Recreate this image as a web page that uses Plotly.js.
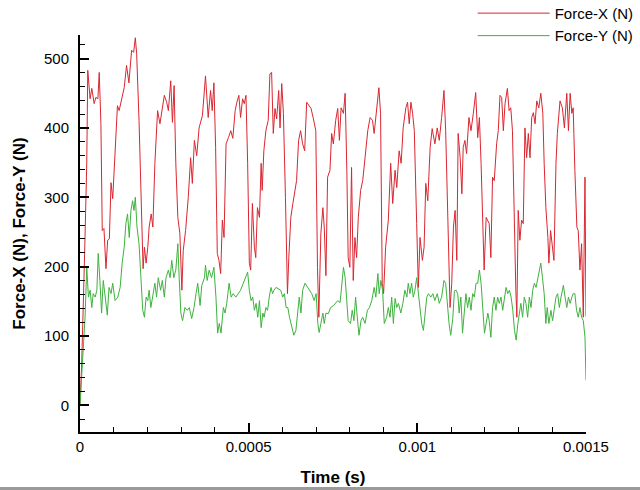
<!DOCTYPE html>
<html>
<head>
<meta charset="utf-8">
<script src="https://cdn.plot.ly/plotly-3.0.1.min.js"></script>
<style>
  html, body { margin: 0; padding: 0; background: #9a9a9a; width: 640px; height: 490px; overflow: hidden; }
  #chart { width: 640px; height: 487px; background: #fff; }
</style>
</head>
<body>
<div id="chart"></div>
<script>
// time in microseconds, force in N
var timeX = [0,5,13,20,23,30,35,42,47,53,57,62,66,71,77,82,87,92,97,104,111,116,124,131,138,145,153,159,164,168,175,181,187,191,196,201,205,211,216,222,230,237,244,250,257,262,269,274,279,284,290,296,302,306,313,321,328,333,339,346,353,363,372,380,387,392,397,402,407,412,417,422,427,433,440,447,453,460,465,471,476,482,487,492,497,502,506,511,517,521,526,532,537,540,545,551,558,563,568,573,578,583,589,593,598,603,609,615,619,625,631,637,642,648,654,660,666,672,679,685,692,699,704,708,714,720,724,729,734,741,746,751,758,764,769,774,781,786,791,795,800,805,810,815,820,825,832,838,845,853,860,867,872,880,886,891,896,900,906,914,921,927,934,939,946,952,958,966,971,976,981,986,991,998,1003,1008,1015,1020,1025,1031,1038,1044,1052,1059,1065,1072,1079,1084,1090,1097,1102,1107,1112,1117,1121,1127,1132,1136,1141,1146,1153,1159,1166,1173,1179,1184,1189,1194,1198,1204,1209,1213,1218,1223,1228,1235,1240,1245,1250,1255,1260,1267,1272,1277,1282,1287,1292,1295,1299,1304,1309,1314,1319,1324,1329,1334,1339,1344,1349,1354,1360,1366,1372,1376,1381,1387,1390,1395,1400,1405,1411,1415,1423,1430,1436,1443,1448,1453,1458,1462,1467,1473,1477,1482,1487,1492,1497,1500];
var forceX = [0,60,205,349,483,442,457,435,444,442,480,406,252,255,197,238,240,321,298,357,432,425,444,458,490,465,512,509,530,507,411,285,197,228,205,228,257,276,257,349,425,406,432,447,437,425,468,408,461,349,271,248,166,223,252,300,357,320,382,360,400,418,475,415,454,425,465,372,219,209,190,267,242,377,386,396,385,425,437,447,415,442,435,447,349,205,195,291,228,213,285,271,349,310,367,396,411,478,480,392,428,413,454,400,464,421,300,161,213,271,291,310,324,382,396,377,367,437,432,428,413,396,199,127,248,285,257,187,329,339,392,377,411,428,382,429,421,450,339,213,199,343,180,242,213,271,310,324,357,396,415,411,392,435,458,421,176,161,228,267,349,291,339,314,367,349,400,429,437,406,437,421,396,262,170,242,209,228,320,295,372,399,377,400,382,415,454,396,271,141,176,257,281,209,392,357,305,372,382,363,415,396,421,451,386,415,349,242,195,271,267,262,213,329,324,377,396,447,444,396,435,457,425,429,396,252,166,127,281,238,267,262,400,357,392,357,415,422,406,439,429,450,421,349,285,242,205,252,233,209,349,392,439,429,400,450,396,450,421,429,339,257,252,195,233,127,329,128];

var timeY = [0,10,15,20,25,30,35,39,45,50,54,59,64,69,74,81,86,92,97,104,112,119,125,131,136,141,146,151,156,160,164,169,175,181,186,191,196,201,205,210,216,222,227,232,239,244,250,255,262,267,272,278,284,290,294,299,304,311,318,324,331,338,344,349,356,361,369,372,377,383,390,397,403,408,413,418,425,430,435,442,448,454,462,469,476,484,491,497,502,507,512,517,522,527,532,537,542,546,551,556,561,566,571,575,581,588,595,601,606,611,616,621,628,634,640,645,650,655,660,667,674,680,687,694,700,705,709,714,720,724,729,736,743,752,764,771,776,781,786,791,795,802,807,812,817,822,827,833,838,845,852,858,865,872,877,883,887,892,897,902,909,914,919,924,929,934,939,944,951,957,963,969,973,978,983,988,993,998,1003,1008,1013,1018,1023,1028,1033,1040,1046,1052,1059,1065,1072,1079,1084,1089,1094,1099,1105,1110,1115,1120,1124,1129,1134,1139,1144,1149,1154,1159,1164,1169,1174,1179,1184,1189,1194,1199,1204,1209,1213,1218,1223,1228,1233,1238,1243,1248,1253,1258,1263,1268,1273,1278,1283,1288,1293,1298,1302,1307,1312,1317,1322,1327,1332,1337,1342,1347,1352,1357,1362,1366,1371,1376,1381,1385,1390,1396,1401,1406,1411,1416,1421,1426,1433,1438,1443,1448,1453,1458,1462,1467,1472,1477,1482,1487,1492,1497,1500];
var forceY = [0,84,127,199,156,166,141,161,156,166,219,180,133,180,156,130,170,161,176,151,156,170,205,228,262,276,242,281,295,281,300,257,233,176,137,127,156,151,166,141,156,176,156,184,166,180,156,184,195,184,209,184,195,233,184,133,122,141,137,141,125,141,161,176,144,173,184,202,180,195,184,199,156,104,118,104,141,133,147,176,156,161,156,161,166,176,184,192,166,151,156,137,147,127,151,112,133,127,141,137,156,170,161,166,170,168,166,156,161,141,141,127,112,101,108,133,156,133,166,176,170,166,161,151,161,118,105,118,133,118,133,132,141,144,151,148,180,199,184,156,122,118,137,122,156,127,101,122,127,118,137,141,151,170,156,190,161,180,166,118,127,141,127,156,118,154,141,147,133,147,166,156,176,161,176,156,166,184,161,137,118,108,137,156,161,156,161,151,161,147,156,180,176,141,118,101,125,165,166,160,133,156,104,133,161,141,156,137,161,156,176,176,195,176,137,104,118,133,122,98,141,156,137,156,147,156,137,156,170,161,166,156,137,108,94,118,133,147,127,156,147,127,156,141,166,176,170,184,195,205,184,161,118,141,118,137,122,141,156,161,141,156,173,156,141,156,147,156,161,161,137,127,141,127,122,98,36];

var xTickVals = [0, 0.0005, 0.001, 0.0015];
var xTickText = ["0", "0.0005", "0.001", "0.0015"];
var yTickVals = [0, 100, 200, 300, 400, 500];

var toSec = function (us) { return us.map(function (v) { return v * 1e-6; }); };

var data = [
  {
    x: toSec(timeX), y: forceX, mode: "lines", name: "Force-X (N)",
    line: { color: "rgb(218,38,48)", width: 1 }
  },
  {
    x: toSec(timeY), y: forceY, mode: "lines", name: "Force-Y (N)",
    line: { color: "rgb(62,178,62)", width: 1 }
  }
];

var font = "Liberation Sans, Arial, sans-serif";

var layout = {
  width: 640,
  height: 487,
  margin: { l: 80, r: 54, t: 35, b: 55, autoexpand: false },
  paper_bgcolor: "#fff",
  plot_bgcolor: "#fff",
  font: { family: font, size: 15, color: "#000" },
  showlegend: true,
  legend: {
    x: 0.776, y: 1.096, xanchor: "left", yanchor: "top",
    bgcolor: "rgba(0,0,0,0)", itemwidth: 72,
    font: { family: font, size: 15, color: "#000" },
    tracegroupgap: 0
  },
  xaxis: {
    range: [0, 0.0015],
    showline: true, linecolor: "#000", linewidth: 2,
    showgrid: false, zeroline: false,
    ticks: "inside", ticklen: 9, tickwidth: 2, tickcolor: "#000",
    tickmode: "array", tickvals: xTickVals, ticktext: xTickText,
    minor: { dtick: 0.0001, ticks: "inside", ticklen: 5, tickwidth: 1, tickcolor: "#000" },
    tickfont: { family: font, size: 15 },
    title: { text: "<b>Time (s)</b>", font: { family: font, size: 17 }, standoff: 22 }
  },
  yaxis: {
    range: [-38.5, 534],
    showline: true, linecolor: "#000", linewidth: 2,
    showgrid: false, zeroline: false,
    ticks: "inside", ticklen: 9, tickwidth: 2, tickcolor: "#000",
    tickmode: "array", tickvals: yTickVals,
    minor: { dtick: 20, ticks: "inside", ticklen: 5, tickwidth: 1, tickcolor: "#000" },
    tickfont: { family: font, size: 15 },
    ticklabelstandoff: 6,
    title: { text: "<b>Force-X (N), Force-Y (N)</b>", font: { family: font, size: 17 }, standoff: 14 }
  }
};

Plotly.newPlot("chart", data, layout, { staticPlot: true });
</script>
</body>
</html>
